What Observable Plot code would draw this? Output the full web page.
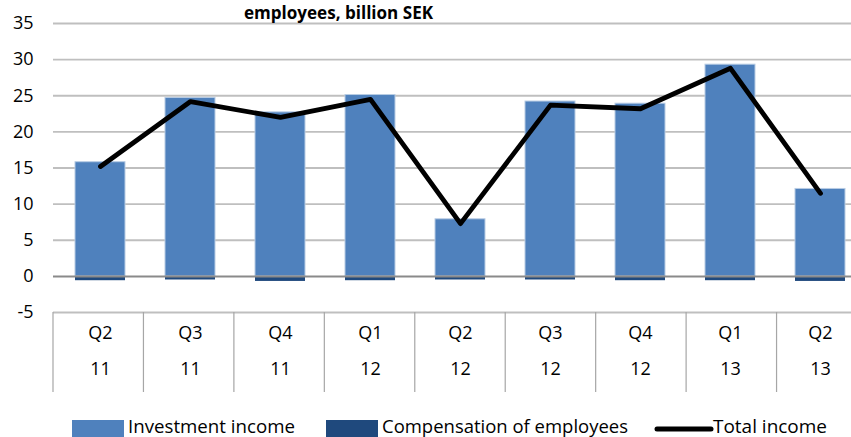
<!DOCTYPE html>
<html>
<head>
<meta charset="utf-8">
<script src="https://cdn.jsdelivr.net/npm/d3@7"></script>
<script src="https://cdn.jsdelivr.net/npm/@observablehq/plot@0.6"></script>
<style>
  body { margin: 0; width: 851px; height: 437px; overflow: hidden; position: relative; background: #fff; font-family: "Open Sans", sans-serif; }
  #chart { position: absolute; left: 0; top: 0; width: 867px; }
  #chart svg { max-width: none !important; }
  #legend { position: absolute; left: 0; top: 0; }
</style>
</head>
<body>
<div id="chart"></div>
<svg id="legend" width="851" height="437"></svg>
<script>
const titleText = "employees, billion SEK";
const quarters = ["Q2","Q3","Q4","Q1","Q2","Q3","Q4","Q1","Q2"];
const years = ["11","11","11","12","12","12","12","13","13"];
const investment = [15.8, 24.7, 22.7, 25.1, 7.9, 24.2, 23.9, 29.3, 12.1];
const compensation = [-0.6, -0.5, -0.7, -0.6, -0.5, -0.5, -0.6, -0.6, -0.7];
const total = [15.2, 24.2, 22.0, 24.5, 7.3, 23.7, 23.2, 28.8, 11.5];
const yTicks = [-5, 0, 5, 10, 15, 20, 25, 30, 35];
const seriesNames = ["Investment income", "Compensation of employees", "Total income"];
const colors = ["#4F81BD", "#1F497D", "#000000"];

const keys = quarters.map((q, i) => q + " " + years[i]);
const rows = keys.map((k, i) => ({key: k, q: quarters[i], yr: years[i], inv: investment[i], comp: compensation[i], tot: total[i]}));

const separators = (index, scales, values, dim) => {
  const g = d3.create("svg:g");
  const n = keys.length;
  const step = (dim.width - dim.marginLeft - dim.marginRight) / n;
  const top = dim.height - dim.marginBottom;
  for (let i = 0; i <= n; i++) {
    const x = dim.marginLeft + i * step;
    g.append("line").attr("x1", x).attr("x2", x).attr("y1", top).attr("y2", top + 80)
      .attr("stroke", "#A6A6A6").attr("stroke-width", 1.2);
  }
  return g.node();
};

const chart = Plot.plot({
  width: 867,
  height: 437,
  marginLeft: 53,
  marginRight: 0,
  marginTop: 23,
  marginBottom: 125,
  style: {fontFamily: "Open Sans, sans-serif", fontSize: "18px", color: "#000", background: "transparent", overflow: "visible", maxWidth: "none"},
  x: {domain: keys, paddingInner: 0.44, paddingOuter: 0.22, axis: null},
  y: {domain: [-5, 35], axis: null},
  marks: [
    Plot.ruleY(yTicks.filter(t => t !== 0), {y: d => d, stroke: "#BFBFBF", strokeWidth: 1.8}),
    Plot.barY(rows, {x: "key", y1: 0, y2: "inv", fill: colors[0], stroke: "#B8CCE4", strokeWidth: 1}),
    Plot.barY(rows, {x: "key", y1: 0, y2: "comp", fill: colors[1]}),
    Plot.ruleY([0], {stroke: "#8A8A8A", strokeWidth: 2}),
    Plot.line(rows, {x: "key", y: "tot", stroke: colors[2], strokeWidth: 4.8, strokeLinejoin: "round", strokeLinecap: "round"}),
    Plot.axisY({ticks: yTicks, tickSize: 0, tickPadding: 20, fontSize: 18, tickFormat: d => String(d)}),
    Plot.text(rows, {x: "key", text: "q", frameAnchor: "bottom", dy: 26, fontSize: 18, fill: "#000"}),
    Plot.text(rows, {x: "key", text: "yr", frameAnchor: "bottom", dy: 62, fontSize: 18, fill: "#000"}),
    separators
  ]
});
chart.style.maxWidth = "none";
document.getElementById("chart").appendChild(chart);

const leg = d3.select("#legend");
// Title (second line of the original, top cut off)
leg.append("text").attr("x", 244).attr("y", 19).attr("font-size", 18.5).attr("font-weight", "bold")
  .attr("textLength", 189).attr("lengthAdjust", "spacingAndGlyphs")
  .attr("font-family", "Open Sans, sans-serif").attr("fill", "#000").text(titleText);

// Legend
const items = [
  {name: seriesNames[0], type: "rect", color: colors[0], sx: 72, tx: 128, tl: 167},
  {name: seriesNames[1], type: "rect", color: colors[1], sx: 326, tx: 382, tl: 246},
  {name: seriesNames[2], type: "line", color: colors[2], sx: 657, tx: 713, tl: 114}
];
items.forEach(it => {
  if (it.type === "rect") {
    leg.append("rect").attr("x", it.sx).attr("y", 420).attr("width", 52).attr("height", 18).attr("fill", it.color);
  } else {
    leg.append("line").attr("x1", it.sx).attr("x2", it.sx + 54).attr("y1", 429).attr("y2", 429)
      .attr("stroke", it.color).attr("stroke-width", 5).attr("stroke-linecap", "round");
  }
  leg.append("text").attr("x", it.tx).attr("y", 433).attr("font-size", 17.5)
    .attr("textLength", it.tl).attr("lengthAdjust", "spacingAndGlyphs")
    .attr("font-family", "Open Sans, sans-serif").attr("fill", "#000").text(it.name);
});
</script>
</body>
</html>
